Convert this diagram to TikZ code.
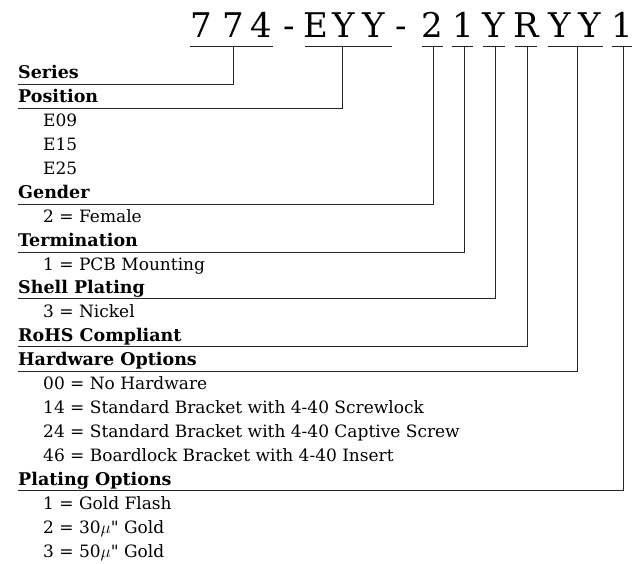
\documentclass[tikz,border=0pt]{standalone}
\usepackage{fontspec}
\setmainfont{DejaVu Serif}
\newfontfamily\qfont{DejaVu Serif}
\begin{document}
\begin{tikzpicture}[x=1pt,y=-1pt,
  digit/.style={font=\fontsize{34}{34}\selectfont, inner sep=0pt, anchor=base},
  head/.style={font=\bfseries\fontsize{17.5}{19}\selectfont, inner sep=0pt, anchor=base west},
  item/.style={font=\fontsize{17}{19}\selectfont, inner sep=0pt, anchor=base west},
  uline/.style={draw=black!85, line width=1pt},
  link/.style={draw=black!85, line width=1pt}]
\useasboundingbox (0,0) rectangle (635,563);
% part number characters
\foreach \c/\x [count=\i] in {7/201,7/233,4/261,-/289,E/316,Y/344,Y/374,-/401,2/432,1/463,Y/494,R/526,Y/560,Y/590,1/622}
  \node[digit] (ch\i) at (\x,37) {\c};
% underlines of the groups
\draw[uline] (190,46) -- (273,46);
\draw[uline] (305,46) -- (392,46);
\draw[uline] (422,46) -- (443,46);
\draw[uline] (452,46) -- (473,46);
\draw[uline] (483,46) -- (505,46);
\draw[uline] (515,46) -- (537,46);
\draw[uline] (548,46) -- (603,46);
\draw[uline] (612,46) -- (632,46);
% tick starts
\coordinate (t1) at (233,46);
\coordinate (t2) at (342,46);
\coordinate (t3) at (433,46);
\coordinate (t4) at (464,46);
\coordinate (t5) at (495,46);
\coordinate (t6) at (527,46);
\coordinate (t7) at (577,46);
\coordinate (t8) at (623,46);
% labels
\node[head] (series) at (18,78) {Series};
\node[head] (position) at (18,102) {Position};
\node[item] (e09) at (43,126) {E09};
\node[item] (e15) at (43,150) {E15};
\node[item] (e25) at (43,174) {E25};
\node[head] (gender) at (18,198) {Gender};
\node[item] (fem) at (43,222) {2 = Female};
\node[head] (term) at (18,246) {Termination};
\node[item] (pcb) at (43,270) {1 = PCB Mounting};
\node[head] (shell) at (18,293) {Shell Plating};
\node[item] (nick) at (43,317) {3 = Nickel};
\node[head] (rohs) at (18,341) {RoHS Compliant};
\node[head] (hw) at (18,365) {Hardware Options};
\node[item] (h00) at (43,389) {00 = No Hardware};
\node[item] (h14) at (43,413) {14 = Standard Bracket with 4-40 Screwlock};
\node[item] (h24) at (43,437) {24 = Standard Bracket with 4-40 Captive Screw};
\node[item] (h46) at (43,461) {46 = Boardlock Bracket with 4-40 Insert};
\node[head] (plat) at (18,485) {Plating Options};
\node[item] (p1) at (43,509) {1 = Gold Flash};
\node[item] (p2) at (43,533) {2 = 30$\mu${\qfont"} Gold};
\node[item] (p3) at (43,557) {3 = 50$\mu${\qfont"} Gold};
% line ends at left
\coordinate (e1) at (18,84);
\coordinate (e2) at (18,108);
\coordinate (e3) at (18,204);
\coordinate (e4) at (18,252);
\coordinate (e5) at (18,298);
\coordinate (e6) at (18,346);
\coordinate (e7) at (18,371);
\coordinate (e8) at (18,490);
% connectors
\draw[link] (t1) |- (e1);
\draw[link] (t2) |- (e2);
\draw[link] (t3) |- (e3);
\draw[link] (t4) |- (e4);
\draw[link] (t5) |- (e5);
\draw[link] (t6) |- (e6);
\draw[link] (t7) |- (e7);
\draw[link] (t8) |- (e8);
\end{tikzpicture}
\end{document}
